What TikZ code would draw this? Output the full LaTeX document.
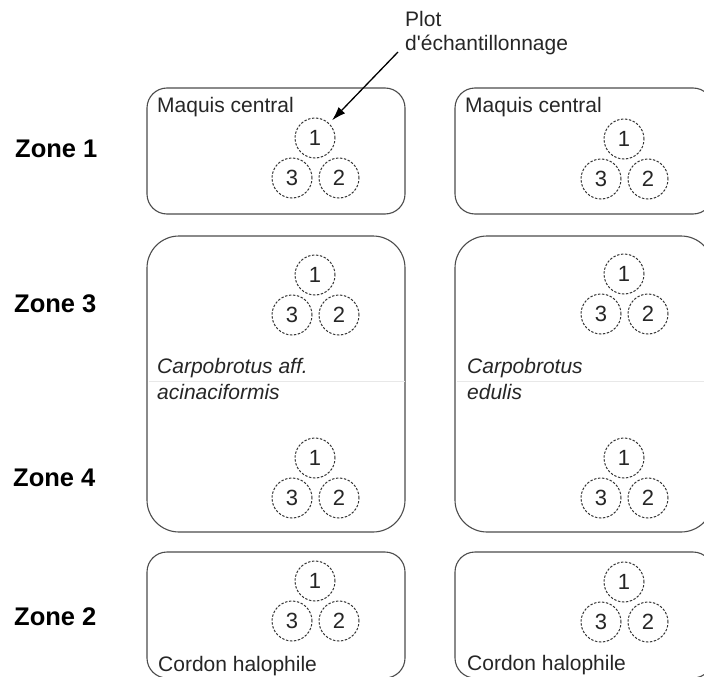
\documentclass[tikz,border=0pt]{standalone}
\usepackage{fontspec}
\setmainfont{Liberation Sans}
\newfontfamily\straightsans{Liberation Sans}
\usetikzlibrary{arrows.meta}
\tikzset{
  zonebox/.style={draw=black!70, line width=1.1pt, rounded corners=20pt, inner sep=0pt, minimum width=258pt},
  plotc/.style={circle, draw=black!80, dash pattern=on 2.4pt off 1.6pt, line width=1pt,
    minimum size=40pt, inner sep=0pt, font=\fontsize{22}{22}\selectfont, text=black!85},
  lbl/.style={anchor=base west, inner sep=0pt, font=\fontsize{21}{25}\selectfont, text=black!85},
  itlbl/.style={lbl, font=\fontsize{21}{25}\selectfont\itshape},
  zonelbl/.style={anchor=base west, inner sep=0pt, font=\fontsize{25.5}{30}\selectfont\bfseries, text=black},
  seam/.style={draw=black!9, line width=0.6pt},
  pointer/.style={line width=1.3pt, draw=black, -{Latex[length=14pt,width=9pt]}, shorten >=4pt},
}
\newcommand\plottriad[3]{%
  \node[plotc] (#1-1) at (#2,#3) {1};
  \node[plotc] (#1-3) at ({#2-23},{#3+40}) {3};
  \node[plotc] (#1-2) at ({#2+24},{#3+40}) {2};
}
\begin{document}
\begin{tikzpicture}[x=1pt,y=-1pt]
\useasboundingbox (0,0) rectangle (704,677);
% zone labels
\node[zonelbl] (zl1) at (15,157) {Zone 1};
\node[zonelbl] (zl3) at (14,312) {Zone 3};
\node[zonelbl] (zl4) at (13,486) {Zone 4};
\node[zonelbl] (zl2) at (14,625) {Zone 2};
% boxes, left column
\node[zonebox, minimum height=126pt] (b1L) at (276,151) {};
\node[zonebox, minimum height=296pt, rounded corners=32pt] (b34L) at (276,384) {};
\node[zonebox, minimum height=126pt] (b2L) at (276,615) {};
% boxes, right column
\node[zonebox, minimum height=126pt] (b1R) at (584,151) {};
\node[zonebox, minimum height=296pt, rounded corners=32pt] (b34R) at (584,384) {};
\node[zonebox, minimum height=126pt] (b2R) at (584,615) {};
% faint separation
\draw[seam] ([yshift=3pt,xshift=3pt]b34L.west) -- ([yshift=3pt,xshift=-1pt]b34L.east);
\draw[seam] ([yshift=3pt,xshift=3pt]b34R.west) -- ([yshift=3pt,xshift=-1pt]b34R.east);
% plots
\plottriad{z1L}{315}{138}
\plottriad{z3L}{315}{275}
\plottriad{z4L}{315}{458}
\plottriad{z2L}{315}{581}
\plottriad{z1R}{624}{139}
\plottriad{z3R}{624}{274}
\plottriad{z4R}{624}{458}
\plottriad{z2R}{624}{582}
% texts
\node[lbl] (mqL) at (157,112) {Maquis central};
\node[lbl] (mqR) at (465,112) {Maquis central};
\node[itlbl] (caL1) at (157,373) {Carpobrotus aff.};
\node[itlbl] (caL2) at (157,399) {acinaciformis};
\node[itlbl] (ceR1) at (467,373) {Carpobrotus};
\node[itlbl] (ceR2) at (467,399) {edulis};
\node[lbl] (chL) at (158,671) {Cordon halophile};
\node[lbl] (chR) at (467,670) {Cordon halophile};
\node[lbl] (plot1) at (405,27) {Plot};
\node[lbl] (plot2) at (405,51) {\straightsans d'échantillonnage};
% pointer
\coordinate (arrstart) at (398,52);
\draw[pointer] (arrstart) -- (z1L-1);
\end{tikzpicture}
\end{document}
